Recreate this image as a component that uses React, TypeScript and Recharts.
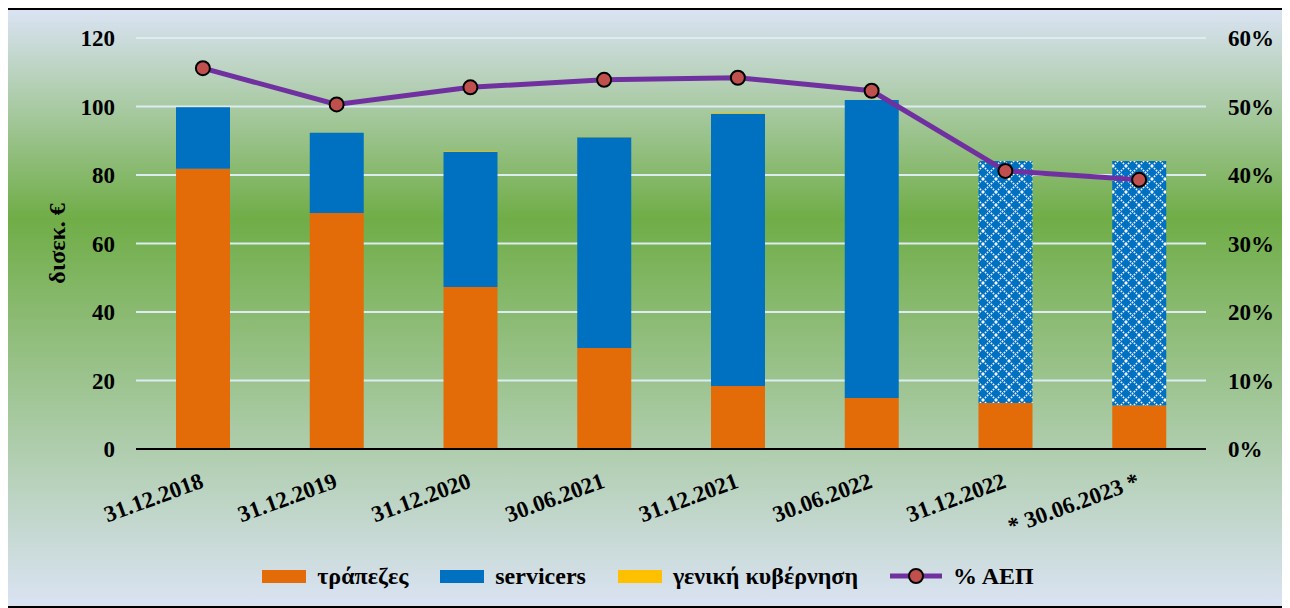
import React from 'react';
import {
  ComposedChart, Bar, Line, XAxis, YAxis, CartesianGrid, Legend, Cell,
} from 'recharts';

const categories = ['31.12.2018', '31.12.2019', '31.12.2020', '30.06.2021', '31.12.2021', '30.06.2022', '31.12.2022', '* 30.06.2023 *'];
const banks = [81.8, 68.9, 47.3, 29.5, 18.4, 14.9, 13.4, 12.7];
const servicers = [18.0, 23.4, 39.5, 61.5, 79.5, 87.0, 70.7, 71.4];
const government = [0, 0, 0.2, 0.1, 0.2, 0, 0, 0];
const pctGdp = [55.6, 50.3, 52.8, 53.9, 54.2, 52.3, 40.6, 39.3];
const hatched = [false, false, false, false, false, false, true, true];
const leftTicks = [0, 20, 40, 60, 80, 100, 120];
const rightTicks = [0, 10, 20, 30, 40, 50, 60];

const data = categories.map((c, i) => ({
  cat: c,
  banks: banks[i],
  servicers: servicers[i],
  gov: government[i],
  pct: pctGdp[i],
}));

const FONT = '"Liberation Serif", "Times New Roman", serif';
const ORANGE = '#e36c09';
const BLUE = '#0070c0';
const YELLOW = '#ffc000';
const PURPLE = '#7030a0';
const DOT = '#c0504d';

const XTick = (props: any) => {
  const { x, y, payload } = props;
  return (
    <g transform={`translate(${x + 2},${y + 38})`}>
      <text x={0} y={0} textAnchor="end" transform="rotate(-20)" fontFamily={FONT} fontWeight="bold" fontSize={23} fill="#000">
        {payload.value}
      </text>
    </g>
  );
};

const LegendContent = () => {
  const item = (swatch: React.ReactNode, label: string, last = false) => (
    <div style={{ display: 'flex', alignItems: 'center', marginRight: last ? 0 : 32 }}>
      {swatch}
      <span style={{ marginLeft: 11, fontFamily: FONT, fontWeight: 'bold', fontSize: 24, color: '#000' }}>{label}</span>
    </div>
  );
  const rect = (c: string) => <div style={{ width: 44, height: 13, background: c }} />;
  return (
    <div style={{ display: 'flex', justifyContent: 'center', alignItems: 'center', height: 40, width: 1280 }}>
      {item(rect(ORANGE), 'τράπεζες')}
      {item(rect(BLUE), 'servicers')}
      {item(rect(YELLOW), 'γενική κυβέρνηση')}
      {item(
        <svg width={52} height={20}>
          <line x1={0} y1={10} x2={52} y2={10} stroke={PURPLE} strokeWidth={5} />
          <circle cx={26} cy={10} r={7} fill={DOT} stroke="#000" strokeWidth={2} />
        </svg>,
        '% ΑΕΠ',
        true
      )}
    </div>
  );
};

const YTitle = (props: any) => {
  const vb = props.viewBox || { x: 0, y: 0, height: 0 };
  const cx = vb.x + 49;
  const cy = vb.y + vb.height / 2;
  return (
    <text x={cx} y={cy} transform={`rotate(-90, ${cx}, ${cy})`} textAnchor="middle" dominantBaseline="central" fontFamily={FONT} fontWeight="bold" fontSize={24} fill="#000">
      δισεκ. €
    </text>
  );
};

export default function App() {
  return (
    <div
      style={{
        position: 'relative',
        marginLeft: -2,
        width: 1284,
        height: 600,
        border: '2px solid #000',
        boxSizing: 'border-box',
        background: 'linear-gradient(to bottom, #dae3f3 0%, #70ad47 35%, #dae3f3 100%)',
      }}
    >
      <ComposedChart width={1280} height={596} data={data} margin={{ top: 28, right: 0, left: 0, bottom: 10 }} barSize={54}>
        <defs>
          <pattern id="lattice" patternUnits="userSpaceOnUse" width={13} height={13}>
            <rect x={0} y={0} width={13} height={13} fill={BLUE} />
            <path d="M0,0 L13,13 M13,0 L0,13" stroke="#ffffff" strokeWidth={1.6} strokeDasharray="1.6,1.2" />
          </pattern>
        </defs>
        <CartesianGrid vertical={false} stroke="#dcecf2" strokeWidth={2} yAxisId="left" />
        <XAxis
          dataKey="cat"
          height={107}
          tick={<XTick />}
          tickLine={false}
          tickSize={0}
          tickMargin={0}
          interval={0}
          axisLine={{ stroke: '#000', strokeWidth: 2 }}
        />
        <YAxis
          yAxisId="left"
          orientation="left"
          width={128}
          domain={[0, 120]}
          ticks={leftTicks}
          axisLine={false}
          tickLine={false}
          tickSize={0}
          tickMargin={21}
          tick={{ fontFamily: FONT, fontWeight: 'bold', fontSize: 23, fill: '#000' }}
          label={<YTitle />}
        />
        <YAxis
          yAxisId="right"
          orientation="right"
          width={82}
          domain={[0, 60]}
          ticks={rightTicks}
          tickFormatter={(v: number) => `${v}%`}
          axisLine={false}
          tickLine={false}
          tickSize={0}
          tickMargin={22}
          tick={{ fontFamily: FONT, fontWeight: 'bold', fontSize: 23, fill: '#000', textAnchor: 'start' }}
        />
        <Bar yAxisId="left" dataKey="banks" stackId="a" fill={ORANGE} isAnimationActive={false} name="τράπεζες" />
        <Bar yAxisId="left" dataKey="servicers" stackId="a" fill={BLUE} isAnimationActive={false} name="servicers">
          {data.map((d, i) => (
            <Cell key={d.cat} fill={hatched[i] ? 'url(#lattice)' : BLUE} />
          ))}
        </Bar>
        <Bar yAxisId="left" dataKey="gov" stackId="a" fill={YELLOW} isAnimationActive={false} name="γενική κυβέρνηση" />
        <Line
          yAxisId="right"
          dataKey="pct"
          stroke={PURPLE}
          strokeWidth={5}
          isAnimationActive={false}
          dot={{ r: 7, fill: DOT, stroke: '#000', strokeWidth: 2 }}
          activeDot={false}
          name="% ΑΕΠ"
        />
        <Legend verticalAlign="bottom" content={<LegendContent />} wrapperStyle={{ left: 0, width: 1280, height: 40 }} />
      </ComposedChart>
    </div>
  );
}
